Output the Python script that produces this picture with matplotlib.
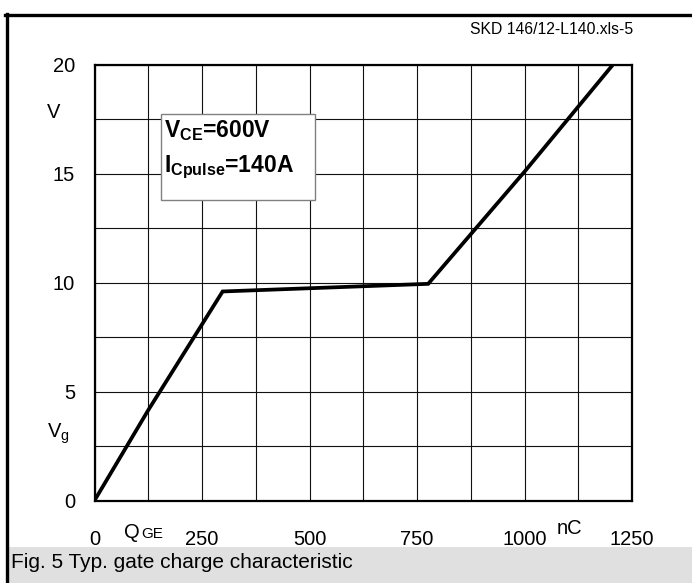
import matplotlib
matplotlib.use("Agg")
import matplotlib.pyplot as plt
from matplotlib.lines import Line2D
from matplotlib.patches import Rectangle

plt.rcParams['font.family'] = ['Liberation Sans', 'DejaVu Sans']
plt.rcParams['mathtext.fontset'] = 'custom'
plt.rcParams['mathtext.rm'] = 'Liberation Sans'
plt.rcParams['mathtext.it'] = 'Liberation Sans'
plt.rcParams['mathtext.bf'] = 'Liberation Sans:bold'

# Data
charge_nC = [0, 125, 298, 776, 1000, 1205]
gate_voltage_V = [0, 4.15, 9.6, 9.95, 15.1, 20.0]
x_ticks = [0, 250, 500, 750, 1000, 1250]
y_ticks = [0, 5, 10, 15, 20]
x_grid = [0, 125, 250, 375, 500, 625, 750, 875, 1000, 1125, 1250]
y_grid = [0, 2.5, 5, 7.5, 10, 12.5, 15, 17.5, 20]

W, H = 692, 583
fig = plt.figure(figsize=(W / 100, H / 100), dpi=100)

def fx(px):
    return px / W

def fy(py):
    return (H - py) / H

# Axes placement
left, right, top, bottom = 94.5, 632, 65, 500.5
ax = fig.add_axes([fx(left), fy(bottom), fx(right - left), (bottom - top) / H])
ax.set_xlim(0, 1250)
ax.set_ylim(0, 20)

for gx in x_grid:
    ax.axvline(gx, color='#111111', lw=0.8, zorder=1)
for gy in y_grid:
    ax.axhline(gy, color='#111111', lw=0.8, zorder=1)

ax.plot(charge_nC, gate_voltage_V, color='black', lw=2.7, solid_capstyle='butt',
        solid_joinstyle='miter', zorder=5, clip_on=True)

ax.set_xticks(x_ticks)
ax.set_yticks(y_ticks)
ax.set_xticklabels([str(t) for t in x_ticks])
ax.set_yticklabels([str(t) for t in y_ticks])
ax.tick_params(axis='both', length=0, labelsize=14.5)
ax.tick_params(axis='x', pad=21)
ax.tick_params(axis='y', pad=14)
for s in ax.spines.values():
    s.set_linewidth(1.6)
    s.set_zorder(6)

# Unit / axis labels
fig.text(fx(47), fy(113), 'V', fontsize=14.5, ha='left', va='center')
fig.text(fx(47), fy(434), r'$\mathregular{V_g}$', fontsize=14.5, ha='left', va='center')
fig.text(fx(124), fy(538), 'Q', fontsize=14.5, ha='left', va='baseline')
fig.text(fx(141), fy(538), 'GE', fontsize=11, ha='left', va='baseline')
fig.text(fx(557), fy(529), 'nC', fontsize=14.5, ha='left', va='center')

# Annotation box
bx0, bx1 = (161 - left) / (right - left), (315 - left) / (right - left)
by0, by1 = (bottom - 200) / (bottom - top), (bottom - 114) / (bottom - top)
ax.add_patch(Rectangle((bx0, by0), bx1 - bx0, by1 - by0, transform=ax.transAxes,
                       facecolor='white', edgecolor='#808080', lw=1.0, zorder=3))
fig.text(fx(164), fy(137), r'$\mathbf{V_{CE}}$' + '=600V', fontsize=16.5,
         fontweight='bold', ha='left', va='baseline', zorder=7)
fig.text(fx(164), fy(172), r'$\mathbf{I_{Cpulse}}$' + '=140A', fontsize=16.5,
         fontweight='bold', ha='left', va='baseline', zorder=7)

# Source label
fig.text(fx(633), fy(29), 'SKD 146/12-L140.xls-5', fontsize=11.3, ha='right', va='center')

# Frame lines
fig.add_artist(Line2D([fx(5), 1.0], [fy(14.5), fy(14.5)], color='black', lw=2.4))
fig.add_artist(Line2D([fx(6.5), fx(6.5)], [fy(13.5), 0.0], color='black', lw=2.4))

# Caption band
fig.add_artist(Rectangle((fx(8), 0), 1 - fx(8), fy(547), transform=fig.transFigure,
                         facecolor='#e0e0e0', edgecolor='none'))
fig.text(fx(11), fy(562), 'Fig. 5 Typ. gate charge characteristic', fontsize=15,
         ha='left', va='center')

fig.savefig('out.png', dpi=100)
